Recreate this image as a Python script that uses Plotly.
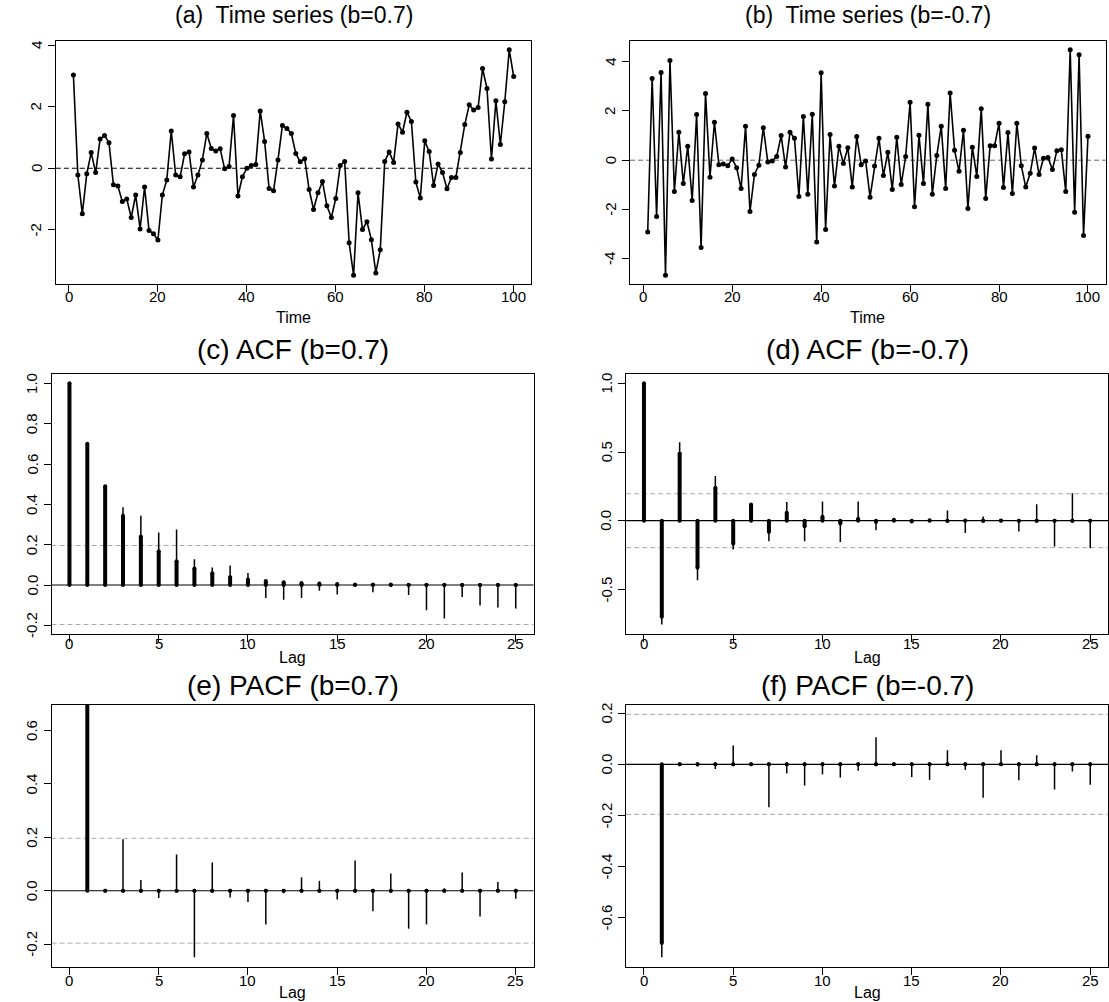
import plotly.graph_objects as go

W, H = 1109, 1002

# ---------------- data ----------------
time_idx = list(range(1, 101))
ts_a = [3.03, -0.22, -1.48, -0.18, 0.51, -0.14, 0.95, 1.06, 0.83, -0.54,
        -0.58, -1.08, -1.00, -1.60, -0.87, -1.97, -0.61, -2.02, -2.13, -2.33,
        -0.87, -0.38, 1.21, -0.22, -0.28, 0.47, 0.53, -0.61, -0.22, 0.27,
        1.13, 0.64, 0.56, 0.63, -0.02, 0.06, 1.71, -0.90, -0.28, 0.00,
        0.09, 0.12, 1.86, 0.87, -0.66, -0.73, 0.27, 1.39, 1.29, 1.13,
        0.48, 0.21, 0.31, -0.69, -1.34, -0.80, -0.43, -1.22, -1.60, -0.98,
        0.09, 0.22, -2.42, -3.48, -0.80, -1.99, -1.74, -2.32, -3.40, -2.65,
        0.22, 0.53, 0.19, 1.44, 1.17, 1.82, 1.52, -0.45, -0.97, 0.89,
        0.54, -0.56, 0.14, -0.14, -0.67, -0.30, -0.30, 0.51, 1.42, 2.06,
        1.89, 1.97, 3.24, 2.59, 0.30, 2.19, 0.77, 2.16, 3.85, 2.98]
ts_b = [-2.91, 3.31, -2.28, 3.56, -4.67, 4.04, -1.27, 1.13, -0.94, 0.57,
        -1.63, 1.85, -3.54, 2.71, -0.69, 1.54, -0.18, -0.15, -0.22, 0.05,
        -0.31, -1.15, 1.38, -2.08, -0.58, -0.20, 1.32, -0.07, -0.03, 0.15,
        1.00, -0.28, 1.13, 0.89, -1.47, 1.77, -1.38, 1.86, -3.32, 3.55,
        -2.81, 1.04, -1.05, 0.57, -0.13, 0.51, -1.09, 0.96, -0.18, -0.03,
        -1.50, -0.23, 0.89, -0.62, 0.32, -1.19, 0.93, -0.99, 0.15, 2.35,
        -1.89, 1.01, -0.94, 2.27, -1.38, 0.19, 1.38, -1.15, 2.73, 0.40,
        -0.45, 1.21, -1.96, 0.53, -0.66, 2.09, -1.55, 0.59, 0.59, 1.50,
        -1.11, 1.12, -1.35, 1.50, -0.22, -1.09, -0.53, 0.49, -0.58, 0.08,
        0.11, -0.38, 0.38, 0.42, -1.27, 4.48, -2.11, 4.28, -3.05, 0.97]

lags_acf = list(range(0, 26))
lags_pacf = list(range(1, 26))

acf_theo_a = [1.0, 0.70, 0.49, 0.343, 0.240, 0.168, 0.118, 0.082, 0.058, 0.040,
              0.028, 0.020, 0.014, 0.010, 0.007, 0.005, 0.003, 0.002, 0.002, 0.001,
              0.001, 0.001, 0.0, 0.0, 0.0, 0.0]
acf_samp_a = [1.0, 0.66, 0.44, 0.386, 0.344, 0.261, 0.275, 0.128, 0.087, 0.097,
              0.059, -0.064, -0.073, -0.064, -0.029, -0.047, 0.003, -0.036, -0.010, -0.050,
              -0.125, -0.166, -0.060, -0.102, -0.112, -0.116]
acf_theo_b = [1.0, -0.70, 0.49, -0.343, 0.240, -0.168, 0.118, -0.082, 0.058, -0.040,
              0.028, -0.020, 0.014, -0.010, 0.007, -0.005, 0.003, -0.002, 0.002, -0.001,
              0.001, -0.001, 0.0, 0.0, 0.0, 0.0]
acf_samp_b = [1.0, -0.756, 0.571, -0.434, 0.325, -0.210, 0.125, -0.150, 0.137, -0.150,
              0.140, -0.155, 0.140, -0.069, 0.012, -0.005, 0.005, 0.074, -0.089, 0.030,
              0.010, -0.079, 0.119, -0.188, 0.200, -0.200]
pacf_theo_a = [0.70] + [0.0] * 24
pacf_samp_a = [0.66, 0.003, 0.193, 0.040, -0.027, 0.136, -0.249, 0.106, -0.025, -0.042,
               -0.126, -0.009, 0.050, 0.037, -0.033, 0.113, -0.077, 0.064, -0.142, -0.126,
               0.009, 0.068, -0.096, 0.033, -0.030]
pacf_theo_b = [-0.70] + [0.0] * 24
pacf_samp_b = [-0.756, 0.003, -0.008, -0.018, 0.074, 0.003, -0.168, -0.036, -0.083, -0.039,
               -0.052, -0.025, 0.106, 0.002, -0.050, -0.061, 0.055, -0.022, -0.131, 0.055,
               -0.062, 0.036, -0.099, -0.028, -0.080]
ci = 0.196

titles = ["(a)  Time series (b=0.7)", "(b)  Time series (b=-0.7)",
          "(c) ACF (b=0.7)", "(d) ACF (b=-0.7)",
          "(e) PACF (b=0.7)", "(f) PACF (b=-0.7)"]
xlabels = ["Time", "Time", "Lag", "Lag", "Lag", "Lag"]

ts_xticks = [0, 20, 40, 60, 80, 100]
lag_xticks = [0, 5, 10, 15, 20, 25]
yticks = [
    [-2, 0, 2, 4],
    [-4, -2, 0, 2, 4],
    [-0.2, 0.0, 0.2, 0.4, 0.6, 0.8, 1.0],
    [-0.5, 0.0, 0.5, 1.0],
    [-0.2, 0.0, 0.2, 0.4, 0.6],
    [-0.6, -0.4, -0.2, 0.0, 0.2],
]
ytext = [
    ["-2", "0", "2", "4"],
    ["-4", "-2", "0", "2", "4"],
    ["-0.2", "0.0", "0.2", "0.4", "0.6", "0.8", "1.0"],
    ["-0.5", "0.0", "0.5", "1.0"],
    ["-0.2", "0.0", "0.2", "0.4", "0.6"],
    ["-0.6", "-0.4", "-0.2", "0.0", "0.2"],
]

# ---------------- layout geometry (pixels) ----------------
boxes = [
    (55.8, 531.3, 40.7, 284.4),
    (630.1, 1105.6, 40.7, 284.4),
    (51.6, 533.6, 373.7, 634.2),
    (626.1, 1108.1, 373.7, 634.2),
    (51.6, 533.6, 704.6, 967.0),
    (626.1, 1108.1, 704.6, 967.0),
]
title_y = [15, 15, 349, 349, 685, 685]
xlab_y = [317, 317, 657, 657, 992, 992]
xtick_y = [297, 297, 643, 643, 980, 980]
ytick_gap = 20

FONT = "Liberation Sans, Arial, Helvetica, sans-serif"


def pad(lo, hi):
    d = (hi - lo) * 0.04
    return [lo - d, hi + d]


def stems(lags, vals):
    xs, ys = [], []
    for k, v in zip(lags, vals):
        xs += [k, k, None]
        ys += [0, v, None]
    return xs, ys


fig = go.Figure()
layout = dict(width=W, height=H, margin=dict(l=0, r=0, t=0, b=0),
              paper_bgcolor="white", plot_bgcolor="white", showlegend=False,
              font=dict(family=FONT, color="black", size=14))
annotations = []
shapes = []

yranges = [
    pad(min(ts_a), max(ts_a)),
    pad(min(ts_b), max(ts_b)),
    pad(min(min(acf_samp_a), -ci), max(max(acf_samp_a), ci)),
    pad(min(min(acf_samp_b), -ci), max(max(acf_samp_b), ci)),
    pad(min(min(pacf_samp_a), -ci), max(max(pacf_samp_a), ci)),
    pad(min(min(pacf_samp_b), -ci), max(max(pacf_samp_b), ci)),
]

tickfont = dict(family=FONT, size=15, color="black")

for i in range(6):
    n = i + 1
    sfx = "" if n == 1 else str(n)
    x0, x1, y0, y1 = boxes[i]
    xd = [x0 / W, x1 / W]
    yd = [1 - y1 / H, 1 - y0 / H]
    is_ts = i < 2
    xr = pad(1, 100) if is_ts else pad(0, 25)
    xt = ts_xticks if is_ts else lag_xticks
    common = dict(showline=True, mirror=True, linecolor="black", linewidth=1,
                  ticks="outside", ticklen=7, tickwidth=1, tickcolor="black",
                  showgrid=False, zeroline=False, showticklabels=False)
    layout["xaxis" + sfx] = dict(domain=xd, range=xr, anchor="y" + sfx,
                                 tickvals=xt, **common)
    layout["yaxis" + sfx] = dict(domain=yd, range=yranges[i], anchor="x" + sfx,
                                 tickvals=yticks[i], **common)
    xref = "x" + sfx
    yref = "y" + sfx
    # tick labels as annotations (R style placement)
    for t in xt:
        annotations.append(dict(text=str(t), x=t, xref=xref, y=1 - xtick_y[i] / H,
                                yref="paper", showarrow=False, xanchor="center",
                                yanchor="middle", font=tickfont))
    for v, s in zip(yticks[i], ytext[i]):
        annotations.append(dict(text=s, x=(x0 - ytick_gap) / W, xref="paper", y=v, yref=yref,
                                showarrow=False, xanchor="center", yanchor="middle",
                                textangle=-90, font=tickfont))
    cx = (x0 + x1) / 2 / W
    annotations.append(dict(text=titles[i], x=cx, y=1 - title_y[i] / H, xref="paper",
                            yref="paper", showarrow=False, xanchor="center", yanchor="middle",
                            font=dict(family=FONT, size=23 if is_ts else 28, color="black")))
    annotations.append(dict(text=xlabels[i], x=cx, y=1 - xlab_y[i] / H, xref="paper",
                            yref="paper", showarrow=False, xanchor="center", yanchor="middle",
                            font=dict(family=FONT, size=16, color="black")))
    if is_ts:
        series = ts_a if i == 0 else ts_b
        shapes.append(dict(type="line", xref=xref + " domain", yref=yref, x0=0, x1=1,
                           y0=0, y1=0, layer="below",
                           line=dict(color="black" if i == 0 else "#666666", width=1,
                                     dash="5px,3px")))
        fig.add_trace(go.Scatter(x=time_idx, y=series, mode="lines+markers",
                                 xaxis=xref, yaxis=yref,
                                 line=dict(color="black", width=1.6),
                                 marker=dict(color="black", size=5)))
    else:
        if i == 2:
            lg, th, sm = lags_acf, acf_theo_a, acf_samp_a
        elif i == 3:
            lg, th, sm = lags_acf, acf_theo_b, acf_samp_b
        elif i == 4:
            lg, th, sm = lags_pacf, pacf_theo_a, pacf_samp_a
        else:
            lg, th, sm = lags_pacf, pacf_theo_b, pacf_samp_b
        for yv in (ci, -ci):
            shapes.append(dict(type="line", xref=xref + " domain", yref=yref, x0=0, x1=1,
                               y0=yv, y1=yv, layer="below",
                               line=dict(color="#aaaaaa", width=1, dash="5px,3px")))
        shapes.append(dict(type="line", xref=xref + " domain", yref=yref, x0=0, x1=1,
                           y0=0, y1=0, layer="below", line=dict(color="black", width=1.2)))
        tx, ty = stems(lg, th)
        fig.add_trace(go.Scatter(x=tx, y=ty, mode="lines+markers", xaxis=xref, yaxis=yref,
                                 line=dict(color="black", width=4),
                                 marker=dict(color="black", size=4), connectgaps=False))
        sx, sy = stems(lg, sm)
        fig.add_trace(go.Scatter(x=sx, y=sy, mode="lines", xaxis=xref, yaxis=yref,
                                 line=dict(color="black", width=1.5), connectgaps=False))

layout["annotations"] = annotations
layout["shapes"] = shapes
fig.update_layout(**layout)
fig.write_html("out.html")
